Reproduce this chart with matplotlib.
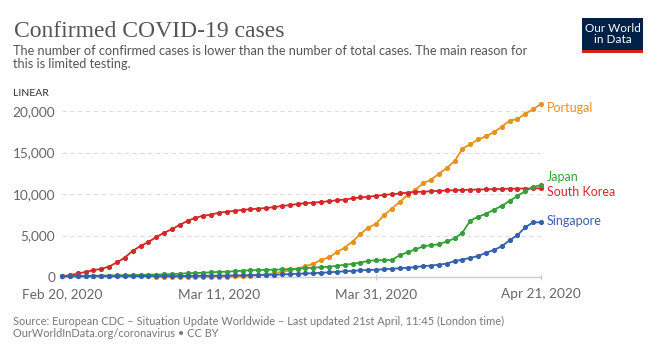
import numpy as np
import pandas as pd
import matplotlib
matplotlib.use("Agg")
import matplotlib.pyplot as plt
import matplotlib.patches as mpatches

plt.rcParams['font.family'] = ['Lato', 'DejaVu Sans']

W, H = 661, 350

dates = pd.date_range("2020-02-20", "2020-04-21", freq="D")

south_korea = [104, 204, 433, 602, 833, 977, 1261, 1766, 2337, 3150,
               3736, 4212, 4812, 5328, 5766, 6284, 6767, 7134, 7382, 7513,
               7755, 7869, 7979, 8086, 8162, 8236, 8320, 8413, 8565, 8652,
               8799, 8897, 8961, 9037, 9137, 9241, 9332, 9478, 9583, 9661, 9786,
               9887, 9976, 10062, 10156, 10237, 10284, 10331, 10384, 10423, 10450,
               10480, 10512, 10537, 10564, 10591, 10613, 10635, 10653, 10661, 10674, 10683]

japan = [90, 100, 115, 135, 150, 165, 180, 200, 220, 235,
         250, 270, 290, 320, 350, 400, 450, 490, 510, 570,
         620, 640, 690, 760, 820, 830, 870, 880, 910,
         950, 990, 1070, 1110, 1190, 1230, 1350, 1470, 1590, 1740, 1940, 2020, 2020,
         2060, 2620, 2980, 3330, 3690, 3850, 3930, 4290, 4640, 5360,
         6790, 7260, 7620, 8100, 8570, 9170, 9760, 10360, 10830, 11070]

portugal = [np.nan] * 12 + [
    2, 4, 6, 9, 13, 21, 30, 39, 41, 59, 78, 112, 169, 245, 331, 448, 642, 785,
    1020, 1280, 1600, 2060, 2362, 2995, 3544, 4268, 5170, 5962, 6408,
    7443, 8251, 9034, 9886, 10524, 11278, 11730, 12442, 13141, 13956, 15472,
    15987, 16585, 16934, 17448, 18091, 18841, 19022, 19685, 20206, 20863]

singapore = [84, 85, 86, 89, 89, 90, 91, 93, 96, 98,
             102, 106, 108, 110, 112, 117, 130, 138, 150, 160,
             166, 178, 187, 200, 212, 226, 243, 266, 313, 345,
             385, 432, 455, 509, 558, 631, 683, 732, 802, 844, 879,
             926, 1000, 1049, 1114, 1189, 1309, 1375, 1481, 1623, 1910,
             2108, 2299, 2532, 2918, 3252, 3699, 4427, 5050, 5992, 6588, 6588]

series = {
    "Portugal": (portugal, "#e8921e"),
    "South Korea": (south_korea, "#d3292b"),
    "Japan": (japan, "#35a039"),
    "Singapore": (singapore, "#3461ad"),
}
# label nudges in points so Japan / South Korea don't collide
label_nudge = {"Portugal": -3, "Japan": 6, "South Korea": -3, "Singapore": 1}

y_ticks = [0, 5000, 10000, 15000, 20000]
x_ticks = ["2020-02-20", "2020-03-11", "2020-03-31", "2020-04-21"]
x_tick_labels = ["Feb 20, 2020", "Mar 11, 2020", "Mar 31, 2020", "Apr 21, 2020"]


def px(x, y):
    return x / W, 1 - y / H


fig = plt.figure(figsize=(W / 100, H / 100), dpi=100)
fig.patch.set_facecolor("white")

left, right, y0, ytop = 62, 541, 277, 102.7
ax = fig.add_axes([left / W, 1 - y0 / H, (right - left) / W, (y0 - ytop) / H])

for name, (vals, col) in series.items():
    ax.plot(dates, vals, color=col, lw=1.3, marker="o", ms=2.7,
            mec=col, clip_on=False, zorder=3)
    ax.annotate(name, (dates[-1], vals[-1]), xytext=(4, label_nudge[name]),
                textcoords="offset points", va="center", ha="left",
                color=col, fontsize=9, annotation_clip=False)

ax.set_xlim(dates[0], dates[-1])
ax.set_ylim(0, 21000)
ax.set_yticks(y_ticks)
ax.set_yticklabels([f"{v:,}" for v in y_ticks])
ax.set_xticks(pd.to_datetime(x_ticks))
ax.set_xticklabels(x_tick_labels)

for v in y_ticks[1:]:
    ax.axhline(v, color="#dddddd", lw=0.8, ls=(0, (4, 3)), zorder=0)

for s in ["top", "right", "left"]:
    ax.spines[s].set_visible(False)
ax.spines["bottom"].set_color("#cccccc")
ax.spines["bottom"].set_linewidth(1.0)
ax.tick_params(axis="y", length=0, pad=5, labelsize=9.8, labelcolor="#666666")
ax.tick_params(axis="x", length=4, color="#cccccc", pad=6, labelsize=9.8,
               labelcolor="#666666", direction="inout")

fig.text(*px(14, 37), "Confirmed COVID-19 cases", family="Liberation Serif",
         fontsize=17, color="#555555", va="baseline")
fig.text(*px(13, 55), "The number of confirmed cases is lower than the number of total cases. The main reason for",
         fontsize=9.2, color="#555555", va="baseline")
fig.text(*px(13, 68), "this is limited testing.", fontsize=9.2, color="#555555", va="baseline")
fig.text(*px(13, 96), "LINEAR", fontsize=7.5, color="#333333", va="baseline")

# logo
logo = mpatches.Rectangle(px(582, 53), 61 / W, 35 / H, transform=fig.transFigure,
                          facecolor="#002147", edgecolor="none")
stripe = mpatches.Rectangle(px(582, 53), 61 / W, 3.5 / H, transform=fig.transFigure,
                            facecolor="#ce261e", edgecolor="none")
fig.patches.extend([logo, stripe])
fig.text(*px(612.5, 34), "Our World\nin Data", color="white", fontsize=8.5,
         ha="center", va="center", linespacing=1.0)

fig.text(*px(13, 325), "Source: European CDC \u2013 Situation Update Worldwide \u2013 Last updated 21st April, 11:45 (London time)",
         fontsize=7.9, color="#777777", va="baseline")
fig.text(*px(13, 337), "OurWorldInData.org/coronavirus \u2022 CC BY",
         fontsize=7.9, color="#777777", va="baseline")

fig.savefig("out.png", dpi=100, facecolor="white")
